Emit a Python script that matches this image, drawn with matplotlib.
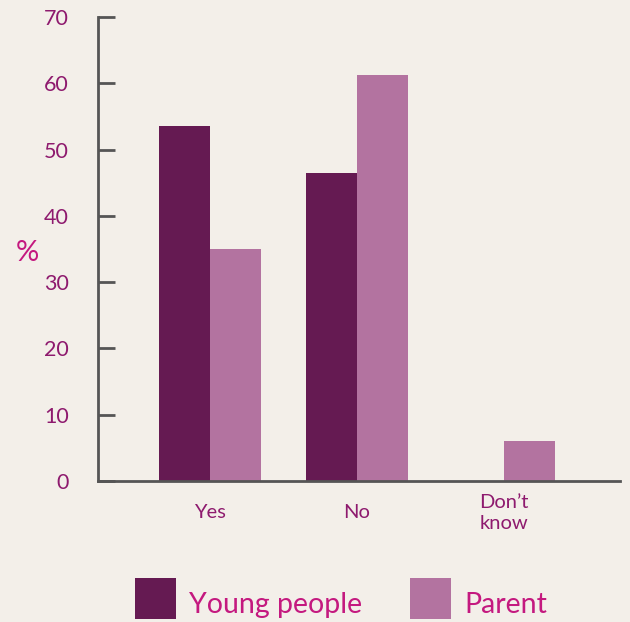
import matplotlib.pyplot as plt
from matplotlib.patches import Rectangle
import numpy as np

categories = ["Yes", "No", "Don\u2019t\nknow"]
young_people = [53.5, 46.5, 0]
parent = [35.0, 61.2, 6.0]
y_ticks = [0, 10, 20, 30, 40, 50, 60, 70]

bg = "#F3EFE9"
dark = "#651A52"
light = "#B373A0"
label_col = "#8E1A6E"
accent = "#C4197F"

plt.rcParams["font.family"] = ["Lato", "DejaVu Sans"]

fig = plt.figure(figsize=(6.3, 6.22), dpi=100, facecolor=bg)
ax = fig.add_axes([98 / 630, 1 - 481 / 622, 522 / 630, 464 / 622])
ax.set_facecolor(bg)

x = np.arange(len(categories))
w = 0.347
ax.bar(x - w / 2, young_people, w, color=dark, linewidth=0)
ax.bar(x + w / 2, parent, w, color=light, linewidth=0)

ax.set_xlim(-0.762, 2.789)
ax.set_ylim(0, 70)

for side in ["top", "right"]:
    ax.spines[side].set_visible(False)
for side in ["left", "bottom"]:
    ax.spines[side].set_color("#555555")
    ax.spines[side].set_linewidth(2)

ax.set_yticks(y_ticks)
ax.tick_params(axis="y", direction="in", length=12, width=2, color="#555555",
               labelsize=15.5, labelcolor=label_col, pad=21)
ax.set_xticks(x)
ax.set_xticklabels(categories, va="center", linespacing=1.25)
ax.tick_params(axis="x", length=0, labelsize=14.5, labelcolor=label_col, pad=23)

fig.text(27 / 630, 1 - 253 / 622, "%", color=accent, fontsize=21,
         ha="center", va="center")

# legend
for x0, lab, col in [(135, "Young people", dark), (410, "Parent", light)]:
    fig.add_artist(Rectangle((x0 / 630, 1 - 619 / 622), 41 / 630, 41 / 622,
                             transform=fig.transFigure, color=col, lw=0))
    fig.text((x0 + 54) / 630, 1 - 605 / 622, lab, color=accent, fontsize=20.5,
             ha="left", va="center")

fig.savefig("out.png", dpi=100, facecolor=bg)
